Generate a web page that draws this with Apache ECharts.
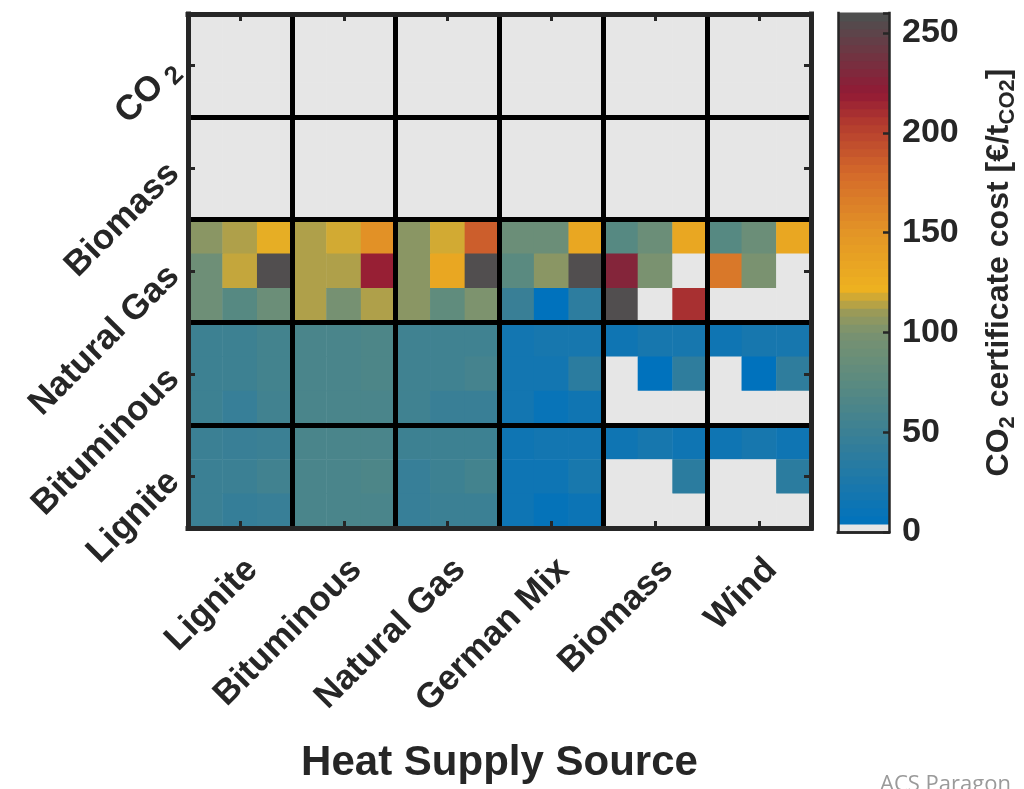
<!DOCTYPE html>
<html><head><meta charset="utf-8">
<script src="https://cdn.jsdelivr.net/npm/echarts@6/dist/echarts.min.js"></script>
<style>html,body{margin:0;padding:0;background:#fff}#c{width:1024px;height:789px}</style>
</head><body><div id="c"></div>
<script>
// ---------- data ----------
const colGroups = ['Lignite', 'Bituminous', 'Natural Gas', 'German Mix', 'Biomass', 'Wind'];
const rowGroups = ['CO2', 'Biomass', 'Natural Gas', 'Bituminous', 'Lignite'];
const colorbarTicks = [0, 50, 100, 150, 200, 250];

// each group row: 3 sub-rows x 18 sub-columns (3 per heat supply source)
const valsCO2 = [
  [0,0,0, 0,0,0, 0,0,0, 0,0,0, 0,0,0, 0,0,0],
  [0,0,0, 0,0,0, 0,0,0, 0,0,0, 0,0,0, 0,0,0],
  [0,0,0, 0,0,0, 0,0,0, 0,0,0, 0,0,0, 0,0,0]
];
const valsBiomass = [
  [0,0,0, 0,0,0, 0,0,0, 0,0,0, 0,0,0, 0,0,0],
  [0,0,0, 0,0,0, 0,0,0, 0,0,0, 0,0,0, 0,0,0],
  [0,0,0, 0,0,0, 0,0,0, 0,0,0, 0,0,0, 0,0,0]
];
const valsNaturalGas = [
  [105,113,122, 113,118,153, 105,118,186, 88,88,132, 72,88,132, 72,88,132],
  [90,116,258, 113,113,218, 105,132,258, 75,105,258, 228,100,0, 170,100,0],
  [90,72,88, 113,97,113, 105,80,101, 48,4,38, 258,0,210, 0,0,0]
];
const valsBituminous = [
  [52,52,57, 62,62,65, 54,54,54, 18,21,21, 15,21,21, 15,21,21],
  [52,52,57, 62,62,65, 54,54,58, 18,18,37, 0,4,40, 0,4,40],
  [52,46,55, 62,62,62, 54,48,48, 18,10,16, 0,0,0, 0,0,0]
];
const valsLignite = [
  [50,48,50, 62,62,62, 52,52,52, 15,18,18, 15,21,15, 15,21,15],
  [50,50,55, 62,62,65, 46,52,57, 14,14,22, 0,0,37, 0,0,37],
  [50,45,47, 62,62,62, 46,50,50, 14,8,13, 0,0,0, 0,0,0]
];
const groupValues = [valsCO2, valsBiomass, valsNaturalGas, valsBituminous, valsLignite];

// ---------- colormap ----------
const GREY = '#e6e6e6';
const cmapVals = [4, 25, 50, 75, 100, 110, 122, 150, 180, 205, 220, 258];
const cmapCols = ['#0072bd','#1c78aa','#3b8094','#5a8a80','#7a9270','#9a9a58','#edb120','#e39526','#d4692a','#b23a2f','#921a35','#4f4f4f'];
function hex2rgb(h){return [parseInt(h.substr(1,2),16),parseInt(h.substr(3,2),16),parseInt(h.substr(5,2),16)];}
function cmap(v){
  if (v < cmapVals[0]) return GREY;
  if (v >= cmapVals[cmapVals.length-1]) return cmapCols[cmapCols.length-1];
  for (let i = 0; i < cmapVals.length-1; i++) {
    if (v >= cmapVals[i] && v <= cmapVals[i+1]) {
      const t = (v - cmapVals[i]) / (cmapVals[i+1] - cmapVals[i]);
      const a = hex2rgb(cmapCols[i]), b = hex2rgb(cmapCols[i+1]);
      const c = a.map((x, k) => Math.round(x + (b[k]-x)*t));
      return 'rgb(' + c.join(',') + ')';
    }
  }
  return GREY;
}
const CB_MIN = 0, CB_MAX = 260, CB_STEP = 4;
const vmColors = [];
for (let v = CB_MIN; v <= CB_MAX; v += CB_STEP) vmColors.push(cmap(v));
const cbStrips = [];
for (let v = CB_MIN; v < CB_MAX; v += CB_STEP) cbStrips.push([0, v, Math.min(v + CB_STEP, CB_MAX)]);

// ---------- build heatmap ----------
const xCats = [], yCats = [];
colGroups.forEach(g => { for (let k = 0; k < 3; k++) xCats.push(g + '#' + k); });
rowGroups.forEach(g => { for (let k = 0; k < 3; k++) yCats.push(g + '#' + k); });
const heat = [];
groupValues.forEach((rows, g) => rows.forEach((row, r) => row.forEach((v, c) => heat.push([c, g*3 + r, v]))));

const TXT = '#262626';
const FONT = '"Liberation Sans", Arial, Helvetica, sans-serif';
const LBL = 35;
const frameLine = { show: true, lineStyle: { color: TXT, width: 5, cap: 'square' } };
const groupTick = { show: true, inside: true, alignWithLabel: true, length: 7, interval: (i) => i % 3 === 1, lineStyle: { color: TXT, width: 3 } };
const groupSplit = { show: true, interval: (i) => i > 0 && i % 3 === 0, lineStyle: { color: '#000', width: 5 } };

const chart = echarts.init(document.getElementById('c'), null, { renderer: 'canvas' });
chart.setOption({
  animation: false,
  backgroundColor: '#fff',
  textStyle: { fontFamily: FONT },
  graphic: [{ type: 'text', left: 880, top: 774, style: { text: 'ACS Paragon', fontSize: 22, fill: '#9a9a9a', fontFamily: '"Open Sans", sans-serif' } }],
  grid: [
    { left: 188, top: 14, width: 623, height: 517 },
    { left: 838, top: 13, width: 51, height: 519 }
  ],
  visualMap: { show: false, type: 'continuous', seriesIndex: 0, dimension: 2, min: CB_MIN, max: CB_MAX, inRange: { color: vmColors } },
  xAxis: [
    { gridIndex: 0, type: 'category', data: xCats, position: 'bottom', z: 10,
      axisLine: frameLine, axisTick: groupTick, splitLine: groupSplit,
      axisLabel: { interval: (i) => i % 3 === 1, rotate: 45, margin: 24, verticalAlign: 'top', color: TXT, fontSize: LBL, fontWeight: 'bold', fontFamily: FONT,
        formatter: (v, i) => colGroups[Math.floor(i / 3)] },
      name: 'Heat Supply Source', nameLocation: 'middle', nameGap: 214,
      nameTextStyle: { color: TXT, fontSize: 42, fontWeight: 'bold', fontFamily: FONT } },
    { gridIndex: 0, type: 'category', data: xCats, position: 'top', z: 10,
      axisLine: frameLine, axisTick: groupTick, axisLabel: { show: false }, splitLine: { show: false } },
    { gridIndex: 1, type: 'category', data: ['cb'], position: 'bottom', z: 10,
      axisLine: { show: true, lineStyle: { color: TXT, width: 2.5, cap: 'square' } }, axisTick: { show: false }, axisLabel: { show: false } },
    { gridIndex: 1, type: 'category', data: ['cb'], position: 'top', z: 10,
      axisLine: { show: true, lineStyle: { color: TXT, width: 2.5, cap: 'square' } }, axisTick: { show: false }, axisLabel: { show: false } }
  ],
  yAxis: [
    { gridIndex: 0, type: 'category', data: yCats, inverse: true, position: 'left', z: 10,
      axisLine: frameLine, axisTick: groupTick, splitLine: groupSplit,
      axisLabel: { interval: (i) => i % 3 === 1, rotate: 45, margin: 14, color: TXT, fontSize: LBL, fontWeight: 'bold', fontFamily: FONT,
        formatter: (v, i) => { const g = rowGroups[Math.floor(i / 3)]; return g === 'CO2' ? '{b|CO}{s| 2}' : '{b|' + g + '}'; },
        rich: { b: { fontSize: LBL, fontWeight: 'bold', color: TXT, fontFamily: FONT, lineHeight: 42, verticalAlign: 'middle' },
                s: { fontSize: 26, fontWeight: 'bold', color: TXT, fontFamily: FONT, lineHeight: 42, verticalAlign: 'bottom' } } } },
    { gridIndex: 0, type: 'category', data: yCats, inverse: true, position: 'right', z: 10,
      axisLine: frameLine, axisTick: groupTick, axisLabel: { show: false }, splitLine: { show: false } },
    { gridIndex: 1, type: 'value', min: CB_MIN, max: CB_MAX, interval: 50, position: 'right', z: 10,
      axisLine: { show: true, lineStyle: { color: TXT, width: 2.5, cap: 'square' } },
      axisTick: { show: true, inside: true, length: 6, lineStyle: { color: TXT, width: 2.5 } },
      splitLine: { show: false },
      axisLabel: { margin: 13, color: TXT, fontSize: 34, fontWeight: 'bold', fontFamily: FONT,
        customValues: colorbarTicks },
      name: '{b|CO}{s|2}{b| certificate cost [€/t}{s|CO2}{b|]}', nameLocation: 'middle', nameRotate: 90, nameGap: 90,
      nameTextStyle: { rich: {
        b: { fontSize: 32, fontWeight: 'bold', color: TXT, fontFamily: FONT, lineHeight: 40, verticalAlign: 'middle' },
        s: { fontSize: 22, fontWeight: 'bold', color: TXT, fontFamily: FONT, lineHeight: 40, verticalAlign: 'bottom' } } } },
    { gridIndex: 1, type: 'value', min: CB_MIN, max: CB_MAX, position: 'left', z: 10,
      axisLine: { show: true, lineStyle: { color: TXT, width: 2.5, cap: 'square' } },
      axisTick: { show: false }, axisLabel: { show: false }, splitLine: { show: false } }
  ],
  series: [
    { type: 'heatmap', xAxisIndex: 0, yAxisIndex: 0, data: heat, itemStyle: { borderWidth: 0 }, emphasis: { disabled: true }, progressive: 0 },
    { type: 'custom', xAxisIndex: 2, yAxisIndex: 2, data: cbStrips, encode: { x: 0, y: [1, 2] }, silent: true,
      renderItem: function (params, api) {
        const lo = api.value(1), hi = api.value(2);
        const p0 = api.coord([0, lo]), p1 = api.coord([0, hi]);
        const w = api.size([1, 0])[0];
        return { type: 'rect', shape: { x: p0[0] - w / 2, y: p1[1] - 0.4, width: w, height: p0[1] - p1[1] + 0.8 },
                 style: { fill: lo < cmapVals[0] ? GREY : cmap((lo + hi) / 2) } };
      } }
  ]
});
</script></body></html>
